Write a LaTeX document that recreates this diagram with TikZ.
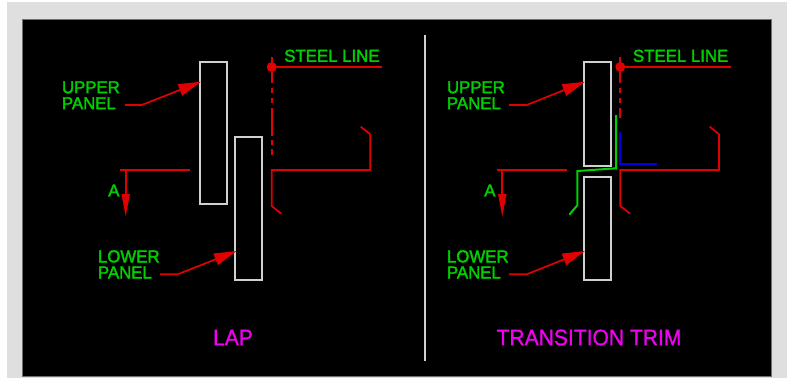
\documentclass[tikz,border=0pt]{standalone}
\usepackage{fontspec}
\newfontfamily\labfont[FakeBold=2,FakeStretch=0.97]{Liberation Sans}
\newfontfamily\ttlfont[FakeBold=1,FakeStretch=0.94]{Liberation Sans}
\usepackage{xcolor}
\usetikzlibrary{calc,arrows.meta}
\definecolor{sheet}{HTML}{DFDFDF}
\definecolor{rim}{HTML}{707070}
\definecolor{panelline}{HTML}{D0D0D0}
\definecolor{detred}{HTML}{E00000}
\definecolor{detgreen}{HTML}{00D000}
\definecolor{detblue}{HTML}{0000E0}
\definecolor{titlemag}{HTML}{F000F0}
\tikzset{
  px/.style={x=0.75pt, y=-0.75pt},
  panel/.style={draw=panelline, line width=1.5pt, inner sep=0pt},
  profile/.style={draw=detred, line width=1.3pt},
  trim/.style={draw=detgreen, line width=1.5pt},
  stud/.style={draw=detblue, line width=1.3pt},
  leader/.style={draw=detred, line width=1.3pt, -{Triangle[length=17pt, width=9pt]}},
  cutarrow/.style={draw=detred, line width=1.3pt, -{Triangle[length=17pt, width=6pt]}},
  steeldot/.style={circle, fill=detred, inner sep=0pt, minimum size=7.5pt},
  lab/.style={text=detgreen, font=\labfont\fontsize{13pt}{12pt}\selectfont, inner sep=0pt, align=left},
  ttl/.style={text=titlemag, font=\ttlfont\fontsize{16.8pt}{17pt}\selectfont, inner sep=0pt}
}
\begin{document}
\begin{tikzpicture}[px]
  \useasboundingbox (0,0) rectangle (787,379);
  \fill[white] (0,0) rectangle (787,379);
  \fill[sheet] (7,2) rectangle (787,378);
  \filldraw[fill=black, draw=rim, line width=0.6pt] (22.5,19) rectangle (771,376.5);
  \coordinate (divtop) at (425,35);
  \coordinate (divbot) at (425,360.5);
  \draw[panelline, line width=1.3pt] (divtop)--(divbot);

  % lap
  \node[panel, minimum width=20pt, minimum height=106.5pt] (upperA) at (213.3,133) {};
  \node[panel, minimum width=20pt, minimum height=107.5pt] (lowerA) at (248.6,208.3) {};
  \node[steeldot] (dotA) at (271.7,67) {};
  \coordinate (tickA) at (271.7,56.7);
  \coordinate (slEndA) at (382.3,67);
  \coordinate (slBotA) at (271.7,155);
  \draw[profile] (tickA)--(dotA.center)--(slEndA);
  \draw[profile] (dotA.center)--(271.7,82.7);
  \draw[profile] (271.7,87.7)--(271.7,93.3);
  \draw[profile] (271.7,98.3)--(271.7,103.3);
  \draw[profile] (271.7,108.3)--(271.7,136);
  \draw[profile] (271.7,140)--(271.7,145);
  \draw[profile] (271.7,149)--(slBotA);
  \draw[profile] (281.3,213.7)--(271.7,206)--(271.7,170)--(370.3,170)--(370.3,134.3)--(360.7,126.7);
  \coordinate (cutLA) at (120,170);
  \coordinate (cutRA) at (189.7,170);
  \coordinate (cutTA) at (125.7,170);
  \coordinate (cutEA) at (125.7,216.7);
  \draw[profile] (cutLA)--(cutRA);
  \draw[cutarrow] (cutTA)--(cutEA);

  \node[lab, anchor=north west] (upperLabA) at (61.7,81) {UPPER\\PANEL};
  \node[lab, anchor=north west] (lowerLabA) at (97.7,250) {LOWER\\PANEL};
  \node[lab, anchor=west] (aLabA) at (108,190.5) {A};
  \node[lab, anchor=west] (steelLabA) at (284,55.8) {STEEL LINE};
  \coordinate (upperHitA) at (201,81.7);
  \coordinate (lowerHitA) at (236.7,251);
  \draw[leader] (125,105)--(141.7,105)--(upperHitA);
  \draw[leader] (160,274.3)--(177.7,274.3)--(lowerHitA);
  \node[ttl] (lapTitle) at (233,337.5) {LAP};

  % transition trim
  \node[panel, minimum width=20pt, minimum height=78pt] (upperB) at (597.3,114.2) {};
  \node[panel, minimum width=20pt, minimum height=77.5pt] (lowerB) at (597.3,228.3) {};
  \node[steeldot] (dotB) at (620.3,67) {};
  \coordinate (tickB) at (620.3,56.7);
  \coordinate (slEndB) at (731,67);
  \coordinate (slBotB) at (620.3,118);
  \draw[profile] (tickB)--(dotB.center)--(slEndB);
  \draw[profile] (dotB.center)--(620.3,82.7);
  \draw[profile] (620.3,87.7)--(620.3,93.3);
  \draw[profile] (620.3,98.3)--(620.3,103.3);
  \draw[profile] (620.3,108.3)--(slBotB);
  \draw[profile] (630,213.7)--(620.3,206)--(620.3,170)--(719,170)--(719,134.3)--(709.7,126.7);
  \draw[trim] (616,115)--(616,168.3)--(577.3,171)--(577.3,205.3)--(569.3,214.7);
  \draw[stud] (620.3,132.3)--(620.3,164.3)--(656.7,164.3);
  \coordinate (cutLB) at (496.7,170);
  \coordinate (cutRB) at (566.7,170);
  \coordinate (cutTB) at (502.3,170);
  \coordinate (cutEB) at (502.3,216.7);
  \draw[profile] (cutLB)--(cutRB);
  \draw[cutarrow] (cutTB)--(cutEB);

  \node[lab, anchor=north west] (upperLabB) at (446.7,81) {UPPER\\PANEL};
  \node[lab, anchor=north west] (lowerLabB) at (446.7,250) {LOWER\\PANEL};
  \node[lab, anchor=west] (aLabB) at (484,190.5) {A};
  \node[lab, anchor=west] (steelLabB) at (632.7,55.8) {STEEL LINE};
  \coordinate (upperHitB) at (585,81.7);
  \coordinate (lowerHitB) at (585,251);
  \draw[leader] (509,105)--(526.7,105)--(upperHitB);
  \draw[leader] (509,274.3)--(526.7,274.3)--(lowerHitB);
  \node[ttl] (trimTitle) at (589,337.5) {TRANSITION TRIM};
\end{tikzpicture}
\end{document}
